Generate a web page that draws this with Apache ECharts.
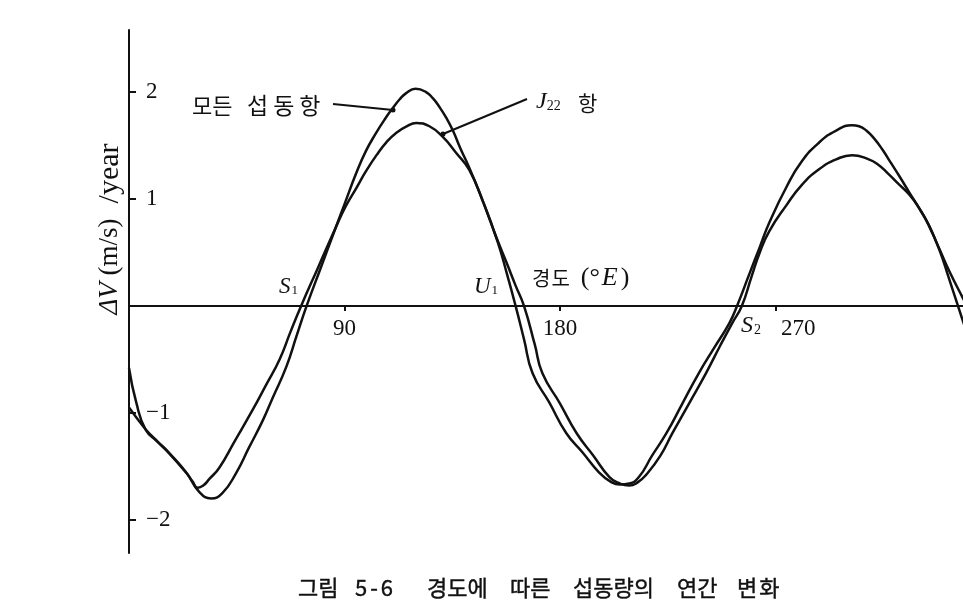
<!DOCTYPE html>
<html>
<head>
<meta charset="utf-8">
<script src="https://cdn.jsdelivr.net/npm/echarts@6/dist/echarts.min.js"></script>
<style>
  html, body { margin: 0; padding: 0; background: #fff; }
  #chart { width: 963px; height: 609px; }
</style>
</head>
<body>
<div id="chart"></div>
<script>
// 모든 섭동항 (all perturbation terms)
var lonAll = [0, 3, 7, 12, 17, 24, 29.4, 34.3, 39, 44.8, 50, 55.9, 60, 65.7, 70, 74.2, 80, 86.5, 90, 94.9,
  99, 103.3, 107, 110.2, 113, 115.8, 119.7, 124.1, 127, 129.7, 132.5, 135.3, 138.5, 142.2, 147.8, 153.5,
  158, 161.5, 165, 169.5, 172.7, 180, 187, 194, 200.7, 205, 209, 212.5, 216, 222, 227, 234, 241, 247, 252,
  256, 260, 263.5, 267.5, 274.6, 281, 288.4, 295.4, 302, 309, 313, 317, 321, 326, 330.2, 334, 338.6, 343, 348.2, 351];
var valAll = [-0.58, -0.90, -1.16, -1.27, -1.38, -1.56, -1.74, -1.80, -1.75, -1.56, -1.33, -1.07, -0.86, -0.57, -0.28, 0, 0.35, 0.74, 0.95, 1.24,
  1.45, 1.62, 1.75, 1.85, 1.93, 1.99, 2.03, 2.00, 1.94, 1.86, 1.76, 1.64, 1.47, 1.29, 0.98, 0.64,
  0.39, 0.19, 0, -0.36, -0.63, -0.91, -1.19, -1.40, -1.60, -1.66, -1.68, -1.65, -1.58, -1.40, -1.19, -0.91, -0.63, -0.37, -0.16,
  0, 0.27, 0.50, 0.70, 0.94, 1.13, 1.28, 1.37, 1.41, 1.37, 1.32, 1.24, 1.15, 1.04, 0.91, 0.76, 0.53, 0.31, 0.08, -0.04];

// J22 항
var lonJ22 = [0, 3, 7.2, 12, 16.9, 23.9, 26.5, 28.7, 31, 33.5, 37.8, 44, 51.7, 57, 62.9, 67.5, 71.9, 79, 86.5, 90.5,
  94.9, 99, 103.4, 107.5, 111.7, 116, 120, 125.5, 131.1, 136.7, 142.2, 148, 154, 158, 161.5, 165, 168.6,
  175.5, 182.7, 189.5, 196.5, 201, 205, 209, 213, 218.5, 224.5, 231, 238, 244.5, 250.8, 254, 259, 263.5,
  267.5, 274.6, 281, 288.4, 295.4, 302, 305, 308, 311.5, 314.8, 318.5, 321.9, 326, 330.2, 334, 338.6, 342.5, 346.3, 348.2, 350];
var valJ22 = [-0.95, -1.04, -1.16, -1.27, -1.38, -1.56, -1.64, -1.70, -1.68, -1.62, -1.51, -1.27, -0.97, -0.75, -0.50, -0.24, 0, 0.36, 0.74, 0.93,
  1.10, 1.26, 1.41, 1.53, 1.62, 1.68, 1.71, 1.68, 1.58, 1.43, 1.27, 0.97, 0.60, 0.29, 0, -0.31, -0.63,
  -0.90, -1.19, -1.37, -1.56, -1.64, -1.67, -1.66, -1.60, -1.40, -1.19, -0.92, -0.63, -0.39, -0.16, 0, 0.29, 0.55,
  0.78, 1.11, 1.35, 1.53, 1.64, 1.69, 1.68, 1.64, 1.56, 1.46, 1.33, 1.21, 1.06, 0.91, 0.76, 0.52, 0.26, 0, -0.13, -0.25];

var xTicks = [90, 180, 270];
var yTicks = [-2, -1, 1, 2];

function pairs(xs, ys) {
  return xs.map(function (x, i) { return [x, ys[i]]; });
}

// 글자 사이를 넓게 (원본 조판처럼)
function spread(str, style) {
  return str.split('').map(function (ch) { return '{' + style + '|' + ch + '}'; }).join('');
}

var ink = '#111';
var serif = 'Liberation Serif, DejaVu Serif, serif';
var kr = 'Noto Sans CJK KR, sans-serif';

var grid = { left: 129, right: 0, top: 30, bottom: 56 };
var yMin = -2.31, yMax = 2.58;
var plotH = 609 - grid.top - grid.bottom;
var zeroOffset = -plotH * (0 - yMin) / (yMax - yMin);

function caption(x, str, gap) {
  return {
    type: 'text', x: x, y: 588,
    style: {
      text: spread(str, 'c'), verticalAlign: 'middle',
      rich: { c: { fontFamily: kr, fontSize: 22, fill: ink, stroke: ink, lineWidth: 0.4, padding: [0, gap || 0, 0, 0] } }
    }
  };
}

var chart = echarts.init(document.getElementById('chart'), null, { renderer: 'canvas' });
chart.setOption({
  animation: false,
  backgroundColor: '#fff',
  grid: grid,
  xAxis: {
    type: 'value',
    min: 0,
    max: 348.4,
    offset: zeroOffset,
    splitLine: { show: false },
    axisLine: { onZero: false, lineStyle: { color: ink, width: 2 } },
    axisTick: { customValues: xTicks, length: 5, lineStyle: { color: ink, width: 2 } },
    axisLabel: {
      customValues: xTicks, color: ink, fontSize: 23, fontFamily: serif, margin: 12,
      // 270 은 S2 표시 때문에 오른쪽으로 밀려 있음
      formatter: function (v) { return v === 270 ? '{r|270}' : String(v); },
      rich: { r: { fontSize: 23, fontFamily: serif, color: ink, padding: [0, 0, 0, 46] } }
    }
  },
  yAxis: {
    type: 'value',
    min: yMin,
    max: yMax,
    splitLine: { show: false },
    axisLine: { lineStyle: { color: ink, width: 2 } },
    axisTick: { customValues: yTicks, inside: true, length: 7, lineStyle: { color: ink, width: 2 } },
    axisLabel: {
      customValues: yTicks, inside: true, margin: 17, color: ink, fontSize: 23, fontFamily: serif,
      formatter: function (v) { return v < 0 ? '\u2212' + (-v) : String(v); }
    }
  },
  series: [
    {
      name: '모든 섭동항', type: 'line', data: pairs(lonAll, valAll), showSymbol: false, smooth: 0.5,
      clip: true, lineStyle: { color: ink, width: 2.5 }
    },
    {
      name: 'J22 항', type: 'line', data: pairs(lonJ22, valJ22), showSymbol: false, smooth: 0.5,
      clip: true, lineStyle: { color: ink, width: 2.5 }
    }
  ],
  graphic: [
    // y축 제목
    {
      type: 'text', x: 110, y: 229, rotation: Math.PI / 2,
      style: {
        text: '{i|ΔV}{r| (m/s)}{g|  /year}', align: 'center', verticalAlign: 'middle',
        rich: {
          i: { fontFamily: serif, fontStyle: 'italic', fontSize: 27, fill: ink },
          r: { fontFamily: serif, fontSize: 27, fill: ink },
          g: { fontFamily: serif, fontSize: 30, fill: ink }
        }
      }
    },
    { type: 'text', x: 279, y: 275, style: { text: '{i|S}{s|1}', rich: {
      i: { fontFamily: serif, fontStyle: 'italic', fontSize: 23, fill: ink },
      s: { fontFamily: serif, fontSize: 13, fill: ink, padding: [8, 0, 0, 1] } } } },
    { type: 'text', x: 474, y: 275, style: { text: '{i|U}{s|1}', rich: {
      i: { fontFamily: serif, fontStyle: 'italic', fontSize: 23, fill: ink },
      s: { fontFamily: serif, fontSize: 13, fill: ink, padding: [8, 0, 0, 1] } } } },
    { type: 'text', x: 741, y: 314, style: { text: '{i|S}{s|2}', rich: {
      i: { fontFamily: serif, fontStyle: 'italic', fontSize: 24, fill: ink },
      s: { fontFamily: serif, fontSize: 14, fill: ink, padding: [8, 0, 0, 1] } } } },
    { type: 'text', x: 532, y: 265, style: { text: '{k|경}{d|도}{r|(°}{i|E}{r|)}', rich: {
      k: { fontFamily: kr, fontSize: 20, fill: ink, padding: [0, 1, 0, 0] },
      d: { fontFamily: kr, fontSize: 20, fill: ink, padding: [0, 11, 0, 0] },
      r: { fontFamily: serif, fontSize: 26, fill: ink, padding: [0, 2, 0, 0] },
      i: { fontFamily: serif, fontStyle: 'italic', fontSize: 26, fill: ink, padding: [0, 3, 0, 0] } } } },
    // 곡선 주석
    { type: 'text', x: 192, y: 95, style: { text: '{a|모든}', rich: {
      a: { fontFamily: kr, fontSize: 22, fill: ink } } } },
    { type: 'text', x: 247, y: 94, style: { text: spread('섭동항', 'k'), rich: {
      k: { fontFamily: kr, fontSize: 23, fill: ink, padding: [0, 5, 0, 0] } } } },
    { type: 'line', shape: { x1: 333, y1: 104, x2: 393, y2: 110 }, style: { stroke: ink, lineWidth: 2 } },
    { type: 'circle', shape: { cx: 393, cy: 110, r: 2.5 }, style: { fill: ink } },
    { type: 'text', x: 536, y: 90, style: { text: '{i|J}{s|22}', rich: {
      i: { fontFamily: serif, fontStyle: 'italic', fontSize: 24, fill: ink },
      s: { fontFamily: serif, fontSize: 14, fill: ink, padding: [9, 0, 0, 0] } } } },
    { type: 'text', x: 578, y: 93, style: { text: '항', fontFamily: kr, fontSize: 21, fill: ink } },
    { type: 'line', shape: { x1: 527, y1: 99, x2: 443, y2: 134 }, style: { stroke: ink, lineWidth: 2 } },
    { type: 'circle', shape: { cx: 443, cy: 134, r: 2.5 }, style: { fill: ink } },
    // 그림 제목
    caption(298, '그림'),
    caption(355, '5-6', 3),
    caption(427, '경도에'),
    caption(510, '따른'),
    caption(573, '섭동량의'),
    caption(677, '연간'),
    caption(737, '변화', 2)
  ]
});
</script>
</body>
</html>
